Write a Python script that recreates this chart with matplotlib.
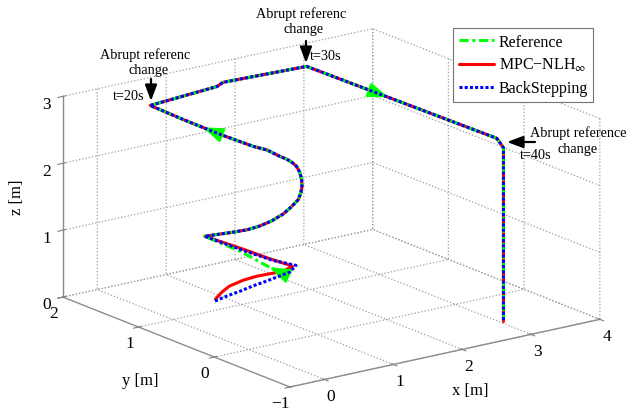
import matplotlib
matplotlib.use('Agg')
import matplotlib.pyplot as plt
from matplotlib.patches import FancyArrowPatch
from mpl_toolkits.mplot3d import proj3d

plt.rcParams['font.family'] = ['Liberation Serif', 'DejaVu Serif']
plt.rcParams['mathtext.fontset'] = 'stix'
plt.rcParams['grid.color'] = '0.62'
plt.rcParams['grid.linestyle'] = ':'
plt.rcParams['grid.linewidth'] = 0.9

# ---------------- data ----------------
ref_x = [1.48, 1.38, 1.26, 1.00, 1.12, 1.18, 1.28, 1.39, 1.54, 1.66, 1.80, 1.89, 1.95,
         2.01, 2.06, 2.09, 2.06, 2.01, 1.93, 1.82, 1.65, 1.26, 0.79, 0.34, 1.29, 1.33,
         2.49, 2.57, 2.60, 2.60, 2.60]
ref_y = [0.84, 0.98, 1.26, 1.49, 1.23, 1.10, 1.02, 0.96, 0.95, 0.95, 0.98, 1.03, 1.07,
         1.13, 1.20, 1.27, 1.30, 1.33, 1.34, 1.41, 1.44, 1.52, 1.56, 1.61, 1.59, 1.55,
         1.50, -0.94, -1.00, -1.00, -1.00]
ref_z = [0.40, 0.48, 0.62, 0.80, 0.95, 1.03, 1.10, 1.18, 1.25, 1.33, 1.40, 1.46, 1.52,
         1.59, 1.65, 1.70, 1.75, 1.80, 1.85, 1.94, 2.02, 2.25, 2.55, 2.85, 2.93, 3.00,
         3.00, 3.00, 2.88, 2.70, 0.28]

mpc_x = [0.88, 1.03, 1.16, 1.35, 1.49, 1.70, 1.78, 1.55, 1.34, 1.00, 1.12, 1.18, 1.28,
         1.39, 1.54, 1.66, 1.80, 1.89, 1.95, 2.01, 2.06, 2.09, 2.06, 2.01, 1.93, 1.82,
         1.65, 1.26, 0.79, 0.34, 1.29, 1.33, 2.49, 2.57, 2.60, 2.60, 2.60]
mpc_y = [1.24, 1.29, 1.31, 1.30, 1.25, 1.09, 1.04, 1.15, 1.29, 1.49, 1.23, 1.10, 1.02,
         0.96, 0.95, 0.95, 0.98, 1.03, 1.07, 1.13, 1.20, 1.27, 1.30, 1.33, 1.34, 1.41,
         1.44, 1.52, 1.56, 1.61, 1.59, 1.55, 1.50, -0.94, -1.00, -1.00, -1.00]
mpc_z = [0.00, 0.05, 0.10, 0.15, 0.20, 0.30, 0.38, 0.50, 0.62, 0.80, 0.95, 1.03, 1.10,
         1.18, 1.25, 1.33, 1.40, 1.46, 1.52, 1.59, 1.65, 1.70, 1.75, 1.80, 1.85, 1.94,
         2.02, 2.25, 2.55, 2.85, 2.93, 3.00, 3.00, 3.00, 2.88, 2.70, 0.28]

bs_x = [0.83, 0.98, 1.14, 1.30, 1.47, 1.74, 1.83, 1.54, 1.31, 1.00, 1.12, 1.18, 1.28,
        1.39, 1.54, 1.66, 1.80, 1.89, 1.95, 2.01, 2.06, 2.09, 2.06, 2.01, 1.93, 1.82,
        1.65, 1.26, 0.79, 0.34, 1.29, 1.33, 2.49, 2.57, 2.60, 2.60, 2.60]
bs_y = [1.20, 1.18, 1.15, 1.13, 1.10, 1.04, 1.04, 1.09, 1.27, 1.49, 1.23, 1.10, 1.02,
        0.96, 0.95, 0.95, 0.98, 1.03, 1.07, 1.13, 1.20, 1.27, 1.30, 1.33, 1.34, 1.41,
        1.44, 1.52, 1.56, 1.61, 1.59, 1.55, 1.50, -0.94, -1.00, -1.00, -1.00]
bs_z = [0.00, 0.05, 0.10, 0.15, 0.20, 0.30, 0.38, 0.50, 0.62, 0.80, 0.95, 1.03, 1.10,
        1.18, 1.25, 1.33, 1.40, 1.46, 1.52, 1.59, 1.65, 1.70, 1.75, 1.80, 1.85, 1.94,
        2.02, 2.25, 2.55, 2.85, 2.93, 3.00, 3.00, 3.00, 2.88, 2.70, 0.28]

x_ticks = [0, 1, 2, 3, 4]
y_ticks = [-1, 0, 1, 2]
z_ticks = [0, 1, 2, 3]
series_names = ['Reference', 'MPC\u2212NLH$_{\\infty}$', 'BackStepping']

# ---------------- figure ----------------
W, H = 644, 410
fig = plt.figure(figsize=(W / 100, H / 100), dpi=100)
ax = fig.add_axes([-0.3, -0.6, 1.6, 2.2], projection='3d', proj_type='ortho',
                  computed_zorder=False)
ax.view_init(elev=17.1, azim=-126.6)
ax.set_xlim(-0.5, 4)
ax.set_ylim(-1, 2)
ax.set_zlim(0, 3)
BOX = (386, 381, 210)
ax.set_box_aspect(BOX, zoom=1.0)
ax.set_xticks(x_ticks)
ax.set_yticks(y_ticks)
ax.set_zticks(z_ticks)

for a in (ax.xaxis, ax.yaxis, ax.zaxis):
    a.set_pane_color((1, 1, 1, 0))
    a.pane.set_edgecolor((1, 1, 1, 0))
    a.line.set_color((0.55, 0.55, 0.55))
    a.line.set_linewidth(1.0)
for nm in ('x', 'y', 'z'):
    ax.tick_params(axis=nm, labelsize=12.5, colors='0.5', labelcolor='k', pad=2)

green = (0, 1, 0)
l_mpc, = ax.plot(mpc_x, mpc_y, mpc_z, color=(1, 0, 0), lw=2.2, solid_capstyle='round',
                 solid_joinstyle='round', label=series_names[1], zorder=2, clip_on=False)
l_ref, = ax.plot(ref_x, ref_y, ref_z, color=green, lw=2.2,
                 linestyle=(0, (3, 1.2, 1, 1.2)), label=series_names[0], zorder=3,
                 clip_on=False)
l_bs, = ax.plot(bs_x, bs_y, bs_z, color=(0, 0, 1), lw=2.2, linestyle=(0, (1, 0.7)),
                label=series_names[2], zorder=4, clip_on=False)


def px(x, y, z):
    M = ax.get_proj()
    X, Y, _ = proj3d.proj_transform(x, y, z, M)
    return ax.transData.transform((X, Y))


# calibrate zoom / placement so the box matches the reference frame
fig.canvas.draw()
Lc = px(-0.5, 2, 0)
Rc = px(4, -1, 0)
s = (600 - 63) / (Rc[0] - Lc[0])
ax.set_box_aspect(BOX, zoom=s)
fig.canvas.draw()
Fc = px(-0.5, -1, 0)
pos = ax.get_position(original=True)
ax.set_position([pos.x0 + (290 - Fc[0]) / W, pos.y0 + ((H - 388) - Fc[1]) / H,
                 pos.width, pos.height])
fig.canvas.draw()


def along(xs, ys, zs, i, f):
    return (xs[i] + f * (xs[i + 1] - xs[i]), ys[i] + f * (ys[i + 1] - ys[i]),
            zs[i] + f * (zs[i + 1] - zs[i]))


# green direction arrows on the reference
for (i, f0, f1) in [(0, 0.3, 1.0), (21, 0.05, 0.5), (26, 0.37, 0.43)]:
    t0 = px(*along(ref_x, ref_y, ref_z, i, f0))
    t1 = px(*along(ref_x, ref_y, ref_z, i, f1))
    ax.annotate('', xy=t1, xytext=t0, xycoords='figure pixels',
                textcoords='figure pixels',
                arrowprops=dict(arrowstyle='-|>,head_length=0.75,head_width=0.27',
                                color=green, lw=1.5, mutation_scale=17,
                                shrinkA=0, shrinkB=0))

# text annotations
fs = 10.3


def ftext(x, y, s, **kw):
    fig.text(x / W, 1 - y / H, s, fontsize=kw.pop('fontsize', fs), **kw)


def farrow(x0, y0, x1, y1):
    fig.add_artist(FancyArrowPatch(
        (x0 / W, 1 - y0 / H), (x1 / W, 1 - y1 / H), transform=fig.transFigure,
        arrowstyle='-|>,head_length=0.8,head_width=0.3', mutation_scale=12, lw=1.6,
        color='k', shrinkA=0, shrinkB=0))


ftext(301, 14, 'Abrupt referenc', ha='center', va='center')
ftext(304, 30, 'change', ha='center', va='center')
farrow(306, 42, 306, 64)
ftext(310, 56, 't=30s', ha='left', va='center')

ftext(145, 55, 'Abrupt referenc', ha='center', va='center')
ftext(149, 71, 'change', ha='center', va='center')
farrow(151, 80, 151, 102)
ftext(144, 97, 't=20s', ha='right', va='center')

ftext(578, 133, 'Abrupt reference', ha='center', va='center')
ftext(578, 150, 'change', ha='center', va='center')
farrow(535, 143, 507, 143)
ftext(520, 156, 't=40s', ha='left', va='center')

# axis labels
ftext(17, 197, 'z [m]', ha='center', va='center', rotation=90, fontsize=12)
ftext(140, 381, 'y [m]', ha='center', va='center', fontsize=12)
ftext(470, 391, 'x [m]', ha='center', va='center', fontsize=12)

leg = fig.legend(handles=[l_ref, l_mpc, l_bs], loc='upper left',
                 bbox_to_anchor=(453 / W, 1 - 29 / H), borderaxespad=0,
                 fontsize=11.5, fancybox=False, edgecolor='0.45',
                 handlelength=2.2, handletextpad=0.3, borderpad=0.35,
                 labelspacing=0.42, framealpha=1)
leg.get_frame().set_linewidth(0.8)

fig.savefig('out.png', dpi=100)
